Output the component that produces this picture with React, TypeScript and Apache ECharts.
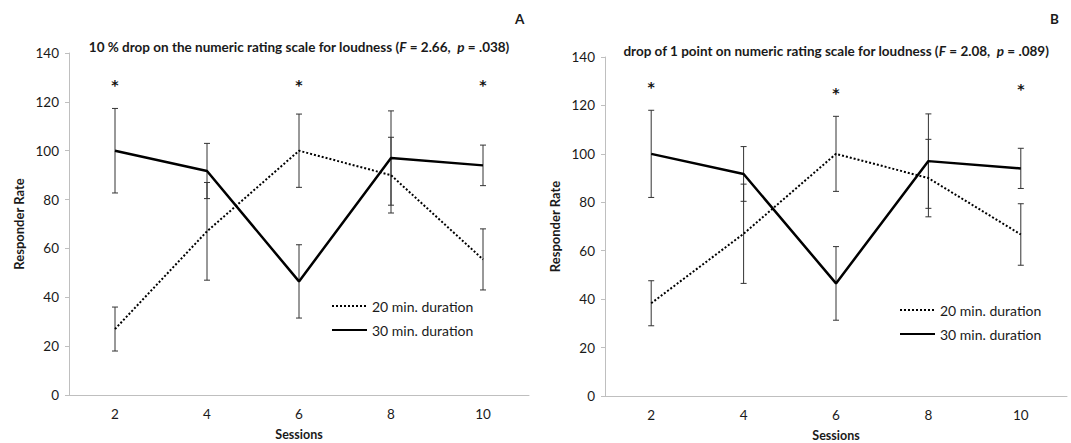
import React, { useEffect, useRef } from "react";
import * as echarts from "echarts";

const sessions = ["2", "4", "6", "8", "10"];
const yTicks = [0, 20, 40, 60, 80, 100, 120, 140];

const a20 = [27, 67, 100, 90, 55.5];
const a20Err = [9, 20, 15, 15.5, 12.5];
const a30 = [100, 91.7, 46.5, 97, 94];
const a30Err = [17.3, 11.3, 15, 19.3, 8.3];
const aStars = [[0, 128], [2, 128], [4, 128]];

const b20 = [38.3, 67, 100, 90, 66.7];
const b20Err = [9.3, 20.5, 15.5, 16, 12.7];
const b30 = [100, 91.7, 46.5, 97, 94];
const b30Err = [18, 11.3, 15.2, 19.5, 8.3];
const bStars = [[0, 129], [2, 126.5], [4, 128]];

const titleA = "10 % drop on the numeric rating scale for loudness (";
const titleB = "drop of 1 point on numeric rating scale for loudness (";
const statsA = ["2.66", ".038"];
const statsB = ["2.08", ".089"];

const FONT = "Lato";
const TXT = "#1a1a1a";
const AXIS = "#bfbfbf";

function errData(vals: number[], errs: number[]) {
  return vals.map((v, i) => [i, v - errs[i], v + errs[i]]);
}

const renderErr = (params: any, api: any) => {
  const x = api.value(0);
  const lo = api.coord([x, api.value(1)]);
  const hi = api.coord([x, api.value(2)]);
  const w = 3;
  const st = { stroke: "#333", lineWidth: 1 };
  return {
    type: "group",
    children: [
      { type: "line", shape: { x1: lo[0], y1: lo[1], x2: hi[0], y2: hi[1] }, style: st },
      { type: "line", shape: { x1: lo[0] - w, y1: lo[1], x2: lo[0] + w, y2: lo[1] }, style: st },
      { type: "line", shape: { x1: hi[0] - w, y1: hi[1], x2: hi[0] + w, y2: hi[1] }, style: st },
    ],
  };
};

const renderStar = (params: any, api: any) => {
  const p = api.coord([api.value(0), api.value(1)]);
  return {
    type: "text",
    x: p[0],
    y: p[1] + 3,
    style: {
      text: "*",
      fill: "#111",
      font: "bold 14px 'DejaVu Sans'",
      textAlign: "center",
      textVerticalAlign: "middle",
    },
  };
};

function makeTitle(prefix: string, stats: string[]) {
  return `${prefix}{i|F} = ${stats[0]},  {i|p} = ${stats[1]})`;
}

export default function App() {
  const ref = useRef<HTMLDivElement>(null);
  useEffect(() => {
    if (!ref.current) return;
    const chart = echarts.init(ref.current, null, { renderer: "svg" });
    const grids = [
      { left: 69, right: 542, top: 53, bottom: 48, outerBoundsMode: "none", containLabel: false },
      { left: 605, right: 4, top: 57, bottom: 47, outerBoundsMode: "none", containLabel: false },
    ];
    const xAxis = [0, 1].map((g) => ({
      type: "category",
      gridIndex: g,
      data: sessions,
      boundaryGap: true,
      name: "Sessions",
      nameLocation: "middle",
      nameGap: 33,
      nameTextStyle: { fontFamily: FONT, fontWeight: "bold", fontSize: 12.5, color: TXT },
      axisLine: { lineStyle: { color: AXIS, width: 1 } },
      axisTick: { length: 4, lineStyle: { color: AXIS } },
      axisLabel: { fontFamily: FONT, fontSize: 13.5, color: TXT, margin: 12 },
    }));
    const yAxis = [0, 1].map((g) => ({
      type: "value",
      gridIndex: g,
      min: yTicks[0],
      max: yTicks[yTicks.length - 1],
      interval: yTicks[1] - yTicks[0],
      name: "Responder Rate",
      nameLocation: "middle",
      nameGap: 44,
      nameTextStyle: { fontFamily: FONT, fontWeight: "bold", fontSize: 13, color: TXT },
      splitLine: { show: false },
      axisLine: { show: true, lineStyle: { color: AXIS, width: 1 } },
      axisTick: { show: true, length: 4, lineStyle: { color: AXIS } },
      axisLabel: { fontFamily: FONT, fontSize: 13.5, color: TXT, margin: 10 },
    }));
    const lineSeries = (name: string, data: number[], g: number, dotted: boolean) => ({
      type: "line",
      name,
      data,
      xAxisIndex: g,
      yAxisIndex: g,
      symbol: "none",
      z: 5,
      lineStyle: { color: "#000", width: dotted ? 2 : 2.5, type: dotted ? [2, 2] : "solid" },
      itemStyle: { color: "#000" },
    });
    const errSeries = (data: number[][], g: number) => ({
      type: "custom",
      xAxisIndex: g,
      yAxisIndex: g,
      renderItem: renderErr,
      encode: { x: 0, y: [1, 2] },
      data,
      z: 3,
      silent: true,
    });
    const starSeries = (data: number[][], g: number) => ({
      type: "custom",
      xAxisIndex: g,
      yAxisIndex: g,
      renderItem: renderStar,
      encode: { x: 0, y: 1 },
      data,
      silent: true,
    });
    const titleStyle = {
      fontFamily: FONT,
      fontWeight: "bold",
      fontSize: 13.5,
      color: TXT,
      rich: { i: { fontFamily: FONT, fontWeight: "bold", fontStyle: "italic", fontSize: 13.5, color: TXT } },
    };
    const legendBase = {
      orient: "vertical",
      itemWidth: 35,
      itemHeight: 14,
      itemGap: 10,
      padding: 0,
      selectedMode: false,
      itemStyle: { opacity: 0 },
      data: ["20 min. duration", "30 min. duration"],
      textStyle: { fontFamily: FONT, fontSize: 14, color: TXT },
    };
    chart.setOption({
      animation: false,
      title: [
        { text: makeTitle(titleA, statsA), left: 299, top: 40, textAlign: "center", padding: 0, textStyle: titleStyle },
        { text: makeTitle(titleB, statsB), left: 836, top: 44, textAlign: "center", padding: 0, textStyle: titleStyle },
        { text: "A", left: 515, top: 12, padding: 0, textStyle: { fontFamily: FONT, fontWeight: "bold", fontSize: 13.5, color: TXT } },
        { text: "B", left: 1050, top: 12, padding: 0, textStyle: { fontFamily: FONT, fontWeight: "bold", fontSize: 13.5, color: TXT } },
      ],
      legend: [
        { ...legendBase, left: 331, top: 299 },
        { ...legendBase, left: 899, top: 303 },
      ],
      grid: grids,
      xAxis,
      yAxis,
      series: [
        errSeries(errData(a20, a20Err), 0),
        errSeries(errData(a30, a30Err), 0),
        lineSeries("20 min. duration", a20, 0, true),
        lineSeries("30 min. duration", a30, 0, false),
        starSeries(aStars, 0),
        errSeries(errData(b20, b20Err), 1),
        errSeries(errData(b30, b30Err), 1),
        lineSeries("20 min. duration", b20, 1, true),
        lineSeries("30 min. duration", b30, 1, false),
        starSeries(bStars, 1),
      ],
    });
    return () => chart.dispose();
  }, []);
  return <div ref={ref} style={{ width: 1071, height: 443, position: "absolute", left: 0, top: 0 }} />;
}
